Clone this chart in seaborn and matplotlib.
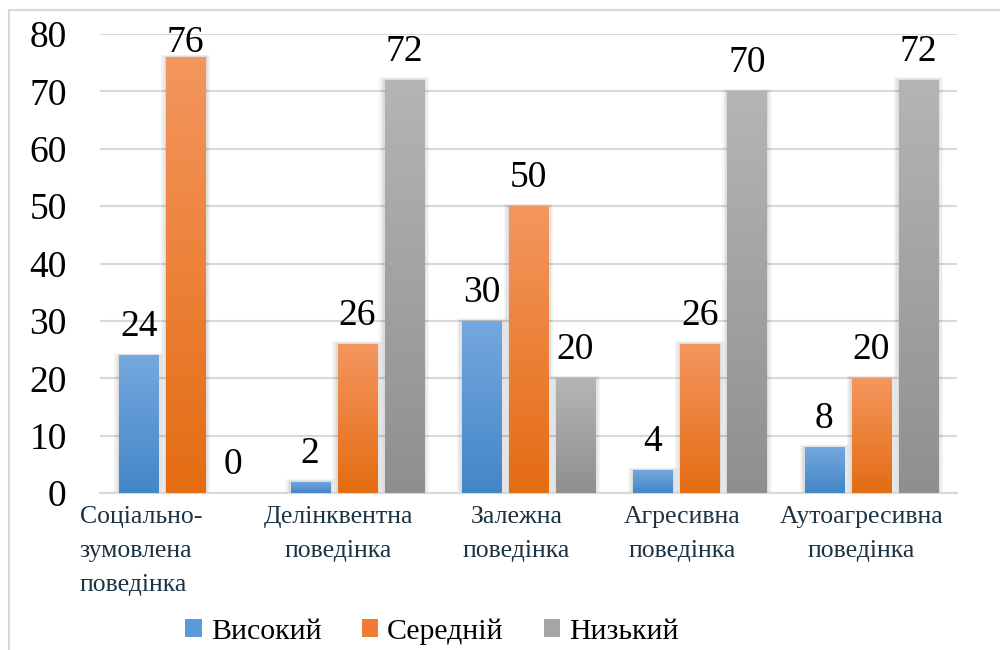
import numpy as np
import pandas as pd
import matplotlib
matplotlib.use("Agg")
import matplotlib.pyplot as plt
import seaborn as sns
from matplotlib.colors import LinearSegmentedColormap
from matplotlib.patches import Rectangle, Patch
from matplotlib.transforms import ScaledTranslation
from matplotlib.font_manager import FontProperties

# ---- data ----
categories = ["Соціально-\nзумовлена\nповедінка", "Делінквентна\nповедінка",
              "Залежна\nповедінка", "Агресивна\nповедінка", "Аутоагресивна\nповедінка"]
levels = ["Високий", "Середній", "Низький"]
high = [24, 2, 30, 4, 8]
medium = [76, 26, 50, 26, 20]
low = [0, 72, 20, 70, 72]
y_ticks = [0, 10, 20, 30, 40, 50, 60, 70, 80]

df = pd.DataFrame({
    "category": categories * 3,
    "level": [levels[0]] * 5 + [levels[1]] * 5 + [levels[2]] * 5,
    "value": high + medium + low,
})

# ---- style ----
SERIF = "Liberation Serif"
plt.rcParams["font.family"] = [SERIF]

grad = {
    "Високий": ("#75a8de", "#4386c7"),
    "Середній": ("#f4965f", "#e46c12"),
    "Низький": ("#b5b5b5", "#8f8f8f"),
}
solid = {"Високий": "#5b9bd5", "Середній": "#ed7d31", "Низький": "#a5a5a5"}

fig = plt.figure(figsize=(10, 6.5), dpi=100)
ax = fig.add_axes([0.100, 0.2415, 0.857, 0.7062])

sns.barplot(data=df, x="category", y="value", hue="level", hue_order=levels,
            order=categories, palette=solid, width=0.823, gap=0.17,
            legend=False, ax=ax, zorder=3)

ax.set_ylim(0, 80)
ax.set_xlim(-0.5, len(categories) - 0.5)
ax.set_yticks(y_ticks)
ax.set_yticklabels([str(t) for t in y_ticks], fontsize=27, color="black", family=SERIF)
ax.tick_params(axis="y", length=0, pad=24)
ax.tick_params(axis="x", length=0, pad=9)
ax.set_xlabel("")
ax.set_ylabel("")
ax.yaxis.grid(True, color="#d9d9d9", linewidth=1.5, zorder=0)
ax.set_axisbelow(True)
for s in ["left", "right", "top"]:
    ax.spines[s].set_visible(False)
ax.spines["bottom"].set_color("#d9d9d9")
ax.spines["bottom"].set_linewidth(1.5)

# gradient fills + soft shadows
px_x = 1.0 / 171.4
px_y = 1.0 / 5.7375
gy = np.linspace(1, 0, 256).reshape(-1, 1)
for lvl, cont in zip(levels, ax.containers):
    cmap = LinearSegmentedColormap.from_list(lvl, [grad[lvl][1], grad[lvl][0]])
    for bar in cont:
        x, y0 = bar.get_x(), bar.get_y()
        w, h = bar.get_width(), bar.get_height()
        if h <= 0:
            bar.set_visible(False)
            continue
        for k in range(1, 5):
            ax.add_patch(Rectangle((x - k * 1.3 * px_x, y0), w + 2 * k * 1.3 * px_x,
                                   h + k * 0.6 * px_y, facecolor="black",
                                   edgecolor="none", alpha=0.035, zorder=2))
        im = ax.imshow(gy, extent=[x, x + w, y0, y0 + h], aspect="auto",
                       cmap=cmap, origin="upper", zorder=4, interpolation="bilinear")
        bar.set_facecolor("none")
        bar.set_edgecolor("none")
        im.set_clip_path(bar)

ax.set_xlim(-0.5, len(categories) - 0.5)
ax.set_ylim(0, 80)
ax.set_aspect("auto")

# data labels
for lvl, cont in zip(levels, ax.containers):
    for bar in cont:
        v = bar.get_height()
        xc = bar.get_x() + bar.get_width() / 2
        ax.text(xc, min(v + 3.3, 76.9), f"{v:g}", ha="center", va="baseline",
                fontsize=27, color="black", zorder=6, family=SERIF)

# category labels
ax.set_xticks(range(len(categories)))
ax.set_xticklabels(categories, fontsize=18.5, color="#1c3344", linespacing=1.72,
                   family=SERIF)
offsets = [-106, -19, -12, -18, -10]
for i, lab in enumerate(ax.get_xticklabels()):
    if i == 0:
        lab.set_horizontalalignment("left")
        lab.set_multialignment("left")
    else:
        lab.set_horizontalalignment("center")
        lab.set_multialignment("center")
    lab.set_transform(lab.get_transform() + ScaledTranslation(offsets[i] / 100, 0, fig.dpi_scale_trans))

# legend
handles = [Patch(facecolor=solid[l], edgecolor="none") for l in levels]
fig.legend(handles, levels, loc="center", bbox_to_anchor=(0.432, 0.028),
           ncol=3, frameon=False, prop=FontProperties(family=SERIF, size=21.5),
           handlelength=0.55, handleheight=0.55, handletextpad=0.3, columnspacing=1.35)

# outer chart border
fig.add_artist(Rectangle((0.009, -0.01), 1.05, 0.9946, transform=fig.transFigure,
                         facecolor="none", edgecolor="#d9d9d9", linewidth=1.5))

fig.savefig("out.png", dpi=100, facecolor="white")
